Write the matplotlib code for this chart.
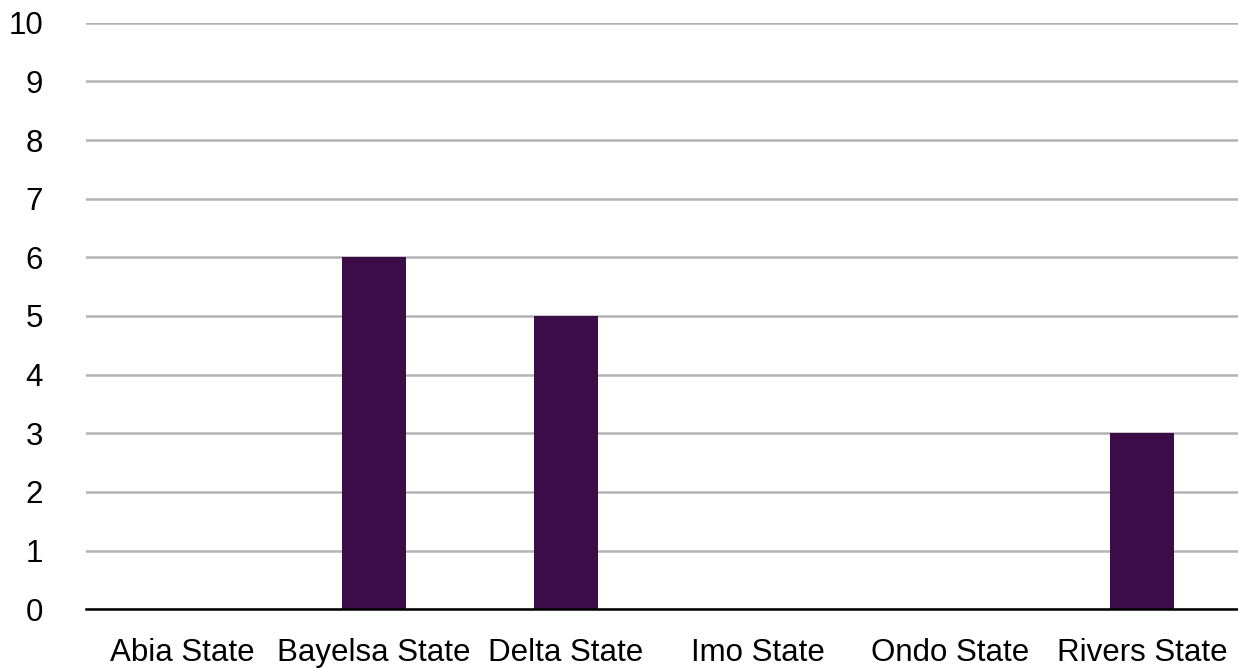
import numpy as np
import matplotlib.pyplot as plt

# Data
states = ['Abia State', 'Bayelsa State', 'Delta State', 'Imo State', 'Ondo State', 'Rivers State']
counts = [0, 6, 5, 0, 0, 3]

plt.rcParams['font.family'] = ['Liberation Sans', 'DejaVu Sans']

fig = plt.figure(figsize=(12.38, 6.68), dpi=100)
ax = fig.add_axes([0.0695, 0.088, 0.9305, 0.878])

x = np.arange(len(states))
ax.bar(x, counts, width=0.33, color='#3c0c48', zorder=3)

ax.set_xlim(-0.5, len(states) - 0.5)
ax.set_ylim(0, 10)
ax.set_yticks(range(0, 11))
ax.set_yticklabels([str(v) for v in range(0, 11)], fontsize=22.5)
ax.set_xticks(x)
ax.set_xticklabels(states, fontsize=22.5)
ax.tick_params(axis='both', length=0)
ax.tick_params(axis='y', pad=31)
ax.tick_params(axis='x', pad=21)

ax.grid(axis='y', color='#b3b3b3', linewidth=1.8, zorder=0)
for s in ['top', 'right', 'left']:
    ax.spines[s].set_visible(False)
ax.spines['bottom'].set_color('black')
ax.spines['bottom'].set_linewidth(1.8)
ax.spines['bottom'].set_zorder(4)

plt.savefig('out.png', dpi=100)
